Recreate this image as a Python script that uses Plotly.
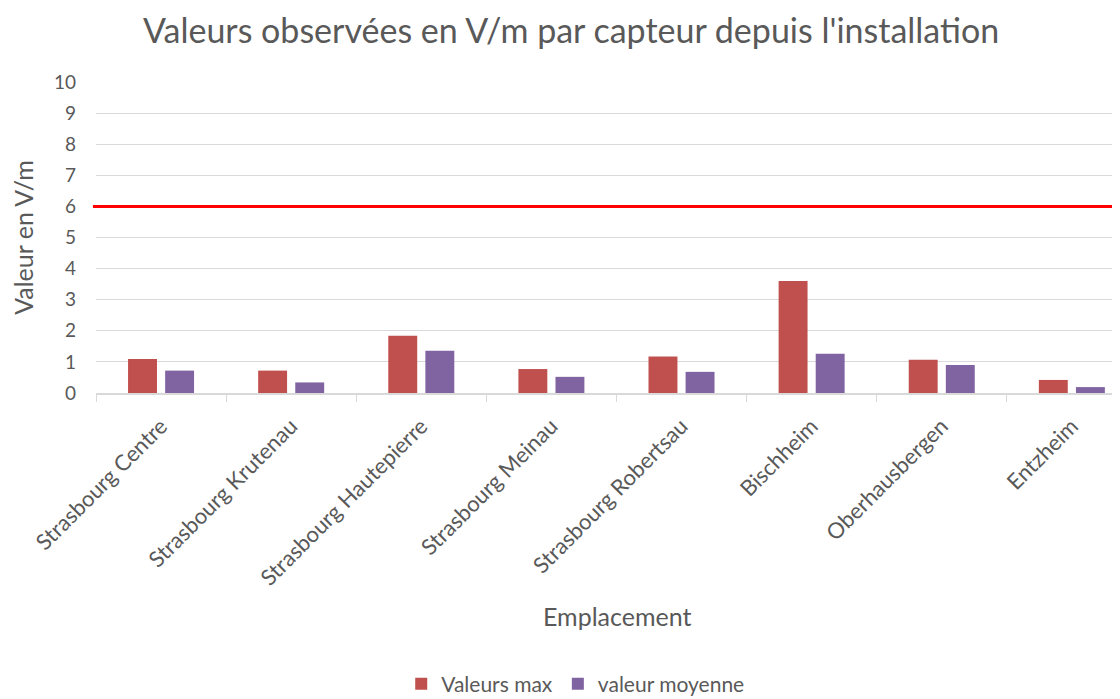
import plotly.graph_objects as go

emplacements = ["Strasbourg Centre", "Strasbourg Krutenau", "Strasbourg Hautepierre",
                "Strasbourg Meinau", "Strasbourg Robertsau", "Bischheim",
                "Oberhausbergen", "Entzheim"]
valeurs_max = [1.09, 0.72, 1.84, 0.77, 1.17, 3.60, 1.07, 0.42]
valeur_moyenne = [0.72, 0.34, 1.36, 0.52, 0.68, 1.26, 0.90, 0.19]
seuil = 6
y_ticks = list(range(0, 11))

FONT = "Lato"
GREY = "#595959"

fig = go.Figure()
fig.add_trace(go.Bar(x=emplacements, y=valeurs_max, name="Valeurs max",
                     marker=dict(color="#C0504D", line=dict(width=0))))
fig.add_trace(go.Bar(x=emplacements, y=valeur_moyenne, name="valeur moyenne",
                     marker=dict(color="#8064A2", line=dict(width=0))))

# limit line
fig.add_shape(type="line", xref="paper", yref="y", x0=-0.003, x1=1, y0=seuil, y1=seuil,
              line=dict(color="#FF0000", width=3), layer="above")

# page body has an 8px margin, so the figure is shifted by 8px
fig.update_layout(
    width=1112, height=691,
    margin=dict(l=88, r=0, t=74, b=306, autoexpand=False),
    paper_bgcolor="white", plot_bgcolor="white",
    font=dict(family=FONT, color=GREY, size=17),
    barmode="group", bargap=0.43, bargroupgap=0.22,
    title=dict(text="Valeurs observées en V/m par capteur depuis l'installation",
               xref="paper", x=0.464, xanchor="center", y=0.966, yanchor="middle",
               font=dict(size=34, color=GREY, family=FONT)),
    showlegend=True,
    legend=dict(orientation="h", x=0.468, xanchor="center", y=-0.936, yanchor="middle",
                font=dict(size=21, color=GREY), traceorder="normal"),
    xaxis=dict(range=[-0.5, 7.37], tickangle=-45, showgrid=False, automargin=False,
               showline=True, linecolor="#D9D9D9", linewidth=1.5,
               ticks="outside", tickson="boundaries", ticklen=7, tickcolor="#D9D9D9",
               ticklabelstandoff=10,
               tickfont=dict(size=22, color=GREY)),
    yaxis=dict(range=[0, 10], tickvals=y_ticks, showgrid=True, gridcolor="#D9D9D9",
               gridwidth=1.3, zeroline=False, ticklabelstandoff=19, automargin=False,
               tickfont=dict(size=19, color=GREY),
               title=dict(text="Valeur en V/m", font=dict(size=25, color=GREY), standoff=16)),
    annotations=[dict(text="Emplacement", xref="paper", yref="paper", x=0.509, y=-0.717,
                      xanchor="center", yanchor="middle", showarrow=False,
                      font=dict(size=25, color=GREY))],
)

fig.write_html("out.html")
